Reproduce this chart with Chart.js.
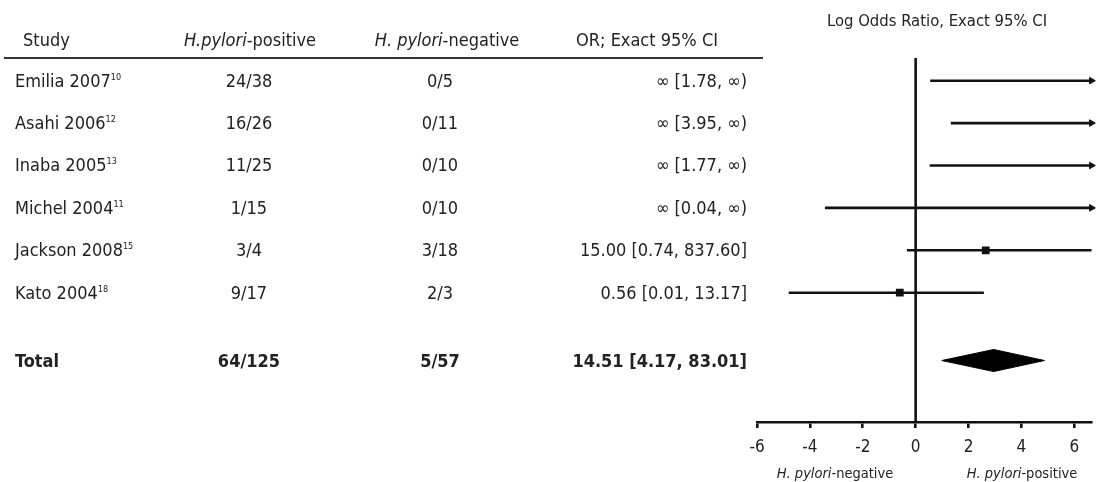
<!DOCTYPE html>
<html>
<head>
<meta charset="utf-8">
<script src="https://cdn.jsdelivr.net/npm/chart.js@4.4.1/dist/chart.umd.min.js"></script>
<style>
    html, body { margin: 0; padding: 0; background: #fff; }
    body {
        width: 1097px; height: 482px; position: relative; overflow: hidden;
        font-family: "Liberation Sans Narrow", "DejaVu Sans Condensed", sans-serif;
        color: #222;
    }
    #plot { position: absolute; left: 0; top: 0; }
    .t { position: absolute; white-space: nowrap; font-size: 18px; line-height: 1; transform: translateY(-50%); }
    .c { transform: translate(-50%, -50%); }
    .r { transform: translate(-100%, -50%); }
    .b { font-weight: bold; }
    .s { font-size: 14.5px; }
    .m { font-size: 16.5px; }
    sup { font-size: 9px; vertical-align: 7px; line-height: 0; }
    #hline { position: absolute; left: 4px; width: 759px; top: 57px; height: 2px; background: #333; }
</style>
</head>
<body>
<canvas id="plot" width="1097" height="482"></canvas>
<div id="hline"></div>
<div id="table"></div>
<script>
// Study rows
const STUDIES = ['Emilia 2007', 'Asahi 2006', 'Inaba 2005', 'Michel 2004', 'Jackson 2008', 'Kato 2004'];
const REFS = ['10', '12', '13', '11', '15', '18'];
const POSITIVE = ['24/38', '16/26', '11/25', '1/15', '3/4', '9/17'];
const NEGATIVE = ['0/5', '0/11', '0/10', '0/10', '3/18', '2/3'];
const OR_TEXT = ['∞ [1.78, ∞)', '∞ [3.95, ∞)', '∞ [1.77, ∞)', '∞ [0.04, ∞)', '15.00 [0.74, 837.60]', '0.56 [0.01, 13.17]'];

// log odds ratios (Infinity = open-ended upper bound)
const LOG_LOW = [0.55, 1.33, 0.53, -3.43, -0.33, -4.8];
const LOG_EST = [null, null, null, null, 2.65, -0.6];
const LOG_HIGH = [Infinity, Infinity, Infinity, Infinity, 6.73, 2.58];
const ROW_Y = [0, 1, 2, 3, 4, 5];

// pooled estimate
const TOTAL_LABEL = 'Total';
const TOTAL_POS = '64/125';
const TOTAL_NEG = '5/57';
const TOTAL_OR = '14.51 [4.17, 83.01]';
const TOTAL_LOG = [0.99, 2.95, 4.87];
const TOTAL_Y = 6.6;

const X_TICKS = [-6, -4, -2, 0, 2, 4, 6];
const X_MIN = -6, X_MAX = 6.65;
const Y_MIN = -0.535, Y_MAX = 8.05;

const FONT = '"Liberation Sans Narrow", "DejaVu Sans Condensed", sans-serif';
const INK = '#111';
const LW = 2.6;

const datasets = [];

// vertical line at 0
datasets.push({
    data: [{ x: 0, y: Y_MIN }, { x: 0, y: Y_MAX }],
    borderColor: INK, borderWidth: LW, pointRadius: 0, showLine: true
});

// confidence intervals, arrows for open-ended ones
STUDIES.forEach((s, i) => {
    const open = !isFinite(LOG_HIGH[i]);
    const hi = open ? X_MAX : LOG_HIGH[i];
    datasets.push({
        data: [{ x: LOG_LOW[i], y: ROW_Y[i] }, { x: hi, y: ROW_Y[i] }],
        borderColor: INK, borderWidth: LW, showLine: true,
        pointRadius: [0, open ? 3.8 : 0],
        pointStyle: 'triangle', rotation: 90,
        pointBackgroundColor: INK, pointBorderColor: INK, pointBorderWidth: 1,
        clip: open ? false : undefined
    });
});

// point estimates
datasets.push({
    data: STUDIES.map((s, i) => ({ x: LOG_EST[i], y: ROW_Y[i] })).filter(p => p.x !== null),
    pointStyle: 'rect', pointRadius: 5.5, pointBackgroundColor: INK, pointBorderColor: INK,
    pointBorderWidth: 0, showLine: false
});

// pooled diamond
const dh = 0.26;
datasets.push({
    type: 'line',
    data: [
        { x: TOTAL_LOG[0], y: TOTAL_Y },
        { x: TOTAL_LOG[1], y: TOTAL_Y - dh },
        { x: TOTAL_LOG[2], y: TOTAL_Y },
        { x: TOTAL_LOG[1], y: TOTAL_Y + dh },
        { x: TOTAL_LOG[0], y: TOTAL_Y }
    ],
    fill: 'shape', backgroundColor: '#000', borderColor: '#000',
    borderWidth: 1, pointRadius: 0, tension: 0
});

const chart = new Chart(document.getElementById('plot'), {
    type: 'scatter',
    data: { datasets },
    options: {
        responsive: false,
        animation: false,
        layout: { padding: { left: 757, right: 5, top: 58, bottom: 0 } },
        plugins: { legend: { display: false }, tooltip: { enabled: false } },
        scales: {
            x: {
                type: 'linear', min: X_MIN, max: X_MAX,
                afterBuildTicks: s => { s.ticks = X_TICKS.map(v => ({ value: v })); },
                afterFit: s => { s.height = 60; },
                grid: { drawOnChartArea: false, drawTicks: true, tickLength: 6, color: INK, lineWidth: LW },
                border: { display: true, color: INK, width: LW },
                ticks: { color: '#222', font: { family: FONT, size: 17 }, padding: 9, maxRotation: 0, autoSkip: false }
            },
            y: { type: 'linear', min: Y_MIN, max: Y_MAX, reverse: true, display: false }
        }
    }
});

// table text, placed on the rows of the y scale
const table = document.getElementById('table');
function put(html, x, y, cls) {
    const d = document.createElement('div');
    d.className = 't ' + (cls || '');
    d.style.left = x + 'px';
    d.style.top = y + 'px';
    d.innerHTML = html;
    table.appendChild(d);
}

put('Study', 23, 40);
put('<i>H.pylori</i>-positive', 250, 40, 'c');
put('<i>H. pylori</i>-negative', 447, 40, 'c');
put('OR; Exact 95% CI', 647, 40, 'c');
put('Log Odds Ratio, Exact 95% CI', 937, 21, 'c m');

const ys = chart.scales.y;
STUDIES.forEach((s, i) => {
    const y = ys.getPixelForValue(ROW_Y[i]);
    put(s + '<sup>' + REFS[i] + '</sup>', 15, y);
    put(POSITIVE[i], 249, y, 'c');
    put(NEGATIVE[i], 440, y, 'c');
    put(OR_TEXT[i], 747, y, 'r');
});
const ty = ys.getPixelForValue(TOTAL_Y);
put(TOTAL_LABEL, 15, ty, 'b');
put(TOTAL_POS, 249, ty, 'c b');
put(TOTAL_NEG, 440, ty, 'c b');
put(TOTAL_OR, 747, ty, 'r b');

put('<i>H. pylori</i>-negative', 835, 473, 'c s');
put('<i>H. pylori</i>-positive', 1022, 473, 'c s');
</script>
</body>
</html>
